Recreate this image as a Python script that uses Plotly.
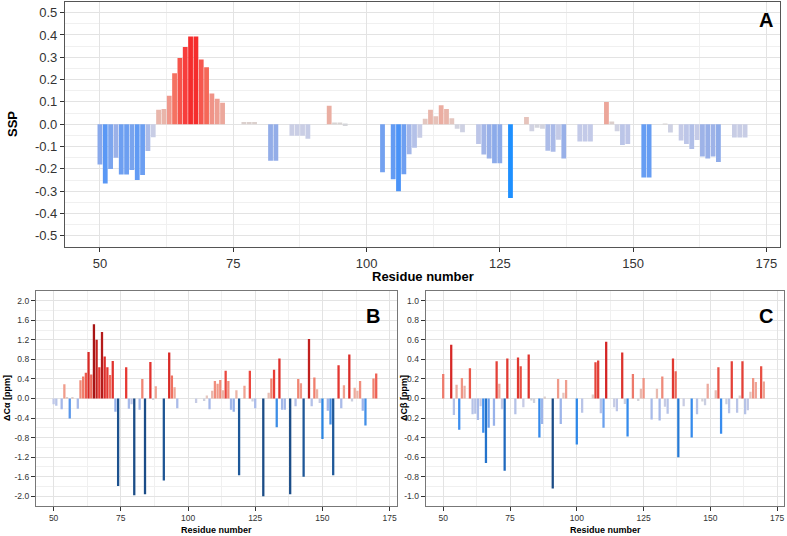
import plotly.graph_objects as go

W, H = 787, 536

# panel A: SSP score per residue
ssp_res = [50, 51, 52, 53, 54, 55, 56, 57, 58, 59, 60, 61, 62, 63, 64, 65, 66, 67, 68, 69,
           70, 71, 72, 73, 77, 78, 79, 82, 83, 86, 87, 88, 89, 93, 94, 95, 96, 103, 105, 106,
           107, 108, 109, 110, 111, 112, 113, 114, 115, 116, 117, 118, 121, 122, 123, 124, 125, 127, 130, 131,
           132, 133, 134, 135, 136, 137, 140, 141, 142, 145, 146, 147, 148, 149, 152, 153, 156, 157, 159, 160,
           161, 162, 163, 164, 165, 166, 169, 170, 171]
ssp_val = [-0.18, -0.265, -0.20, -0.15, -0.225, -0.225, -0.205, -0.25, -0.227, -0.12, -0.058, 0.065, 0.068, 0.128, 0.229, 0.297, 0.346, 0.393, 0.393, 0.29,
           0.255, 0.138, 0.114, 0.096, 0.01, 0.01, 0.01, -0.163, -0.163, -0.052, -0.052, -0.052, -0.065, 0.083, 0.004, 0.004, -0.008, -0.215, -0.246, -0.30,
           -0.224, -0.134, -0.105, -0.06, 0.025, 0.065, 0.036, 0.085, 0.068, 0.027, -0.02, -0.036, -0.089, -0.135, -0.154, -0.175, -0.175, -0.331, 0.032, -0.031,
           -0.016, -0.02, -0.119, -0.123, -0.07, -0.154, -0.077, -0.077, -0.077, 0.10, 0.012, -0.031, -0.093, -0.088, -0.239, -0.239, 0.003, -0.037, -0.073, -0.089,
           -0.111, -0.071, -0.144, -0.154, -0.144, -0.169, -0.059, -0.059, -0.059]

# panel B: delta C-alpha (ppm)
ca_res = [50, 51, 53, 54, 55, 56, 57, 59, 60, 61, 62, 63, 64, 65, 66, 67, 68, 69, 70, 71,
          72, 73, 74, 77, 78, 79, 80, 82, 83, 84, 86, 87, 88, 91, 93, 94, 95, 96, 103, 106,
          107, 108, 109, 110, 111, 112, 113, 114, 115, 116, 117, 118, 119, 121, 123, 124, 125, 128, 130, 131,
          132, 133, 134, 135, 136, 138, 140, 141, 142, 143, 145, 146, 147, 148, 149, 150, 152, 153, 154, 156,
          157, 158, 160, 161, 162, 163, 164, 165, 166, 169, 170]
ca_val = [-0.12, -0.15, -0.22, 0.29, 0.03, -0.41, 0.03, -0.21, 0.376, 0.45, 0.526, 0.95, 0.49, 1.52, 1.20, 0.64, 1.36, 0.86, 0.64, 0.48,
          0.77, -0.27, -1.79, 0.64, -0.21, -0.12, -1.98, -0.23, 0.40, -1.96, 0.745, -0.03, 0.25, -1.68, 0.94, 0.47, 0.23, -0.20, -0.09, -0.05,
          0.06, -0.22, 0.16, 0.36, 0.30, 0.38, 0.17, 0.57, 0.36, -0.23, -0.27, 0.17, -1.57, 0.26, 0.57, -0.06, -0.20, -2.0, 0.12, 0.41,
          0.59, -0.59, 0.82, -0.23, -0.23, -1.96, -0.16, 0.40, 0.31, -1.60, 1.22, -0.16, 0.43, 0.19, -0.09, -0.83, -0.25, -0.53, -1.57, 0.68,
          -0.20, 0.27, 0.90, -0.06, 0.22, 0.16, 0.36, -0.25, -0.55, 0.41, 0.51]

# panel C: delta C-beta (ppm)
cb_res = [50, 53, 54, 55, 56, 57, 58, 60, 61, 62, 63, 64, 65, 66, 67, 69, 70, 71, 72, 73,
          74, 77, 78, 79, 80, 82, 83, 84, 86, 87, 88, 91, 93, 94, 95, 96, 100, 102, 106, 107,
          108, 109, 110, 111, 114, 115, 117, 118, 119, 121, 123, 124, 125, 128, 130, 131, 132, 133, 134, 136,
          137, 138, 140, 143, 145, 147, 148, 149, 152, 153, 154, 156, 157, 158, 160, 161, 162, 163, 164, 165,
          166, 167, 169, 170]
cb_val = [0.25, 0.55, -0.17, 0.14, -0.32, 0.21, 0.13, 0.31, -0.16, -0.155, -0.22, -0.08, -0.35, -0.66, -0.30, -0.28, 0.38, 0.15, -0.11, -0.74,
          0.41, -0.16, 0.42, 0.33, -0.09, 0.45, -0.02, -0.045, -0.40, -0.26, 0.02, -0.92, 0.20, -0.26, 0.06, 0.19, -0.47, -0.145, 0.04, 0.37,
          0.39, -0.15, -0.30, 0.58, -0.09, -0.13, 0.47, -0.055, -0.39, 0.25, -0.025, 0.10, 0.21, -0.215, 0.10, -0.225, 0.225, -0.085, -0.155, 0.41,
          0.28, -0.60, -0.08, -0.40, -0.16, -0.03, -0.07, 0.15, 0.085, 0.32, -0.36, -0.06, -0.15, 0.38, -0.145, 0.03, 0.38, -0.16, -0.12, 0.07,
          0.21, 0.17, 0.33, 0.175]

x_ticks = [50, 75, 100, 125, 150, 175]
ssp_ticks = [i / 10 for i in range(-5, 6)]
ca_ticks = [i * 0.4 for i in range(-5, 6)]
cb_ticks = [i * 0.2 for i in range(-5, 6)]


def hex2rgb(h):
    h = h.lstrip('#')
    return [int(h[i:i + 2], 16) for i in (0, 2, 4)]


def ramp(v, neg, pos):
    stops = pos if v >= 0 else neg
    a = abs(v)
    for (v0, c0), (v1, c1) in zip(stops, stops[1:]):
        if a <= v1:
            t = (a - v0) / (v1 - v0)
            r0, r1 = hex2rgb(c0), hex2rgb(c1)
            return 'rgb(%d,%d,%d)' % tuple(round(p + (q - p) * t) for p, q in zip(r0, r1))
    return stops[-1][1]


ssp_neg = [(0, '#D6D6D6'), (0.03, '#D0D2E2'), (0.08, '#C2C9E8'), (0.16, '#95AEE8'),
           (0.23, '#6A9EF2'), (0.30, '#4A93F8'), (0.33, '#1E90FF')]
ssp_pos = [(0, '#D6D6D6'), (0.03, '#E6C4BC'), (0.08, '#EAB0A4'), (0.13, '#F0968A'),
           (0.25, '#F56A5A'), (0.35, '#F73B3B'), (0.40, '#F52A2A')]
ca_neg = [(0, '#D6D6D6'), (0.1, '#C4CAE6'), (0.25, '#9DB4EA'), (0.4, '#5A97EA'), (0.6, '#3A8CE6'),
          (0.85, '#2A84E0'), (1.5, '#1F5A9C'), (2.0, '#1B4C86')]
ca_pos = [(0, '#D6D6D6'), (0.05, '#E4C8C2'), (0.25, '#F0A594'), (0.45, '#F07A68'), (0.6, '#E83A34'),
          (0.95, '#D82A26'), (1.55, '#A51414')]
cb_neg = [(0, '#D6D6D6'), (0.1, '#C4CAE6'), (0.28, '#98B2EA'), (0.32, '#3C8EF0'), (0.5, '#2A86E6'),
          (0.75, '#1F68BC'), (0.92, '#1B4C86')]
cb_pos = [(0, '#D6D6D6'), (0.05, '#E4C8C2'), (0.2, '#F09A8A'), (0.3, '#EA5A4C'), (0.4, '#E23A32'),
          (0.6, '#D22222')]

fig = go.Figure()
fig.add_trace(go.Bar(x=ssp_res, y=ssp_val, width=0.9, marker_line_width=0,
                     marker_color=[ramp(v, ssp_neg, ssp_pos) for v in ssp_val],
                     xaxis='x', yaxis='y'))
fig.add_trace(go.Bar(x=ca_res, y=ca_val, width=0.85, marker_line_width=0,
                     marker_color=[ramp(v, ca_neg, ca_pos) for v in ca_val],
                     xaxis='x2', yaxis='y2'))
fig.add_trace(go.Bar(x=cb_res, y=cb_val, width=0.85, marker_line_width=0,
                     marker_color=[ramp(v, cb_neg, cb_pos) for v in cb_val],
                     xaxis='x3', yaxis='y3'))

FONT = 'Liberation Sans, Arial, sans-serif'


def px(x, y):
    return x / W, 1 - y / H


def xaxis(x0, x1, y_anchor, size, lc):
    return dict(domain=[x0 / W, x1 / W], anchor=y_anchor, range=[43.45, 177.55],
                tickmode='array', tickvals=x_ticks, ticks='outside', ticklen=4, tickcolor='#333',
                tickfont=dict(family=FONT, size=size, color='#333'),
                showgrid=True, gridcolor='#E3E3E3', gridwidth=1, zeroline=False,
                minor=dict(tickmode='array', tickvals=[62.5, 87.5, 112.5, 137.5, 162.5],
                           showgrid=True, gridcolor='#F0F0F0', gridwidth=1, ticks=''),
                showline=True, mirror=True, linecolor=lc, linewidth=1.2)


def yaxis(y0, y1, x_anchor, ticks, rng, size, lc):
    step = ticks[1] - ticks[0]
    return dict(domain=[1 - y1 / H, 1 - y0 / H], anchor=x_anchor, range=rng,
                tickmode='array', tickvals=ticks, ticktext=['%.1f' % t for t in ticks],
                ticks='outside', ticklen=4, tickcolor='#333',
                tickfont=dict(family=FONT, size=size, color='#333'),
                showgrid=True, gridcolor='#E3E3E3', gridwidth=1, zeroline=False,
                minor=dict(tickmode='array', tickvals=[t + step / 2 for t in ticks[:-1]],
                           showgrid=True, gridcolor='#F0F0F0', gridwidth=1, ticks=''),
                showline=True, mirror=True, linecolor=lc, linewidth=1.2)


ann = []


def label(text, x, y, size, angle=0):
    ax, ay = px(x, y)
    ann.append(dict(text='<b>%s</b>' % text, x=ax, y=ay, xref='paper', yref='paper',
                    showarrow=False, textangle=angle, xanchor='center', yanchor='middle',
                    font=dict(family=FONT, size=size, color='#000')))


label('Residue number', 422.5, 276, 13)
label('SSP', 12, 124, 13, -90)
label('Residue number', 216, 530, 9)
label('ΔCα [ppm]', 7, 398, 9, -90)
label('Residue number', 605, 530, 9)
label('ΔCβ [ppm]', 404, 398, 9, -90)
label('A', 765.5, 20, 20)
label('B', 372.5, 316, 20)
label('C', 765.5, 316, 20)

fig.update_layout(
    width=W, height=H, margin=dict(l=0, r=0, t=0, b=0),
    paper_bgcolor='white', plot_bgcolor='white', showlegend=False,
    xaxis=xaxis(65, 780, 'y', 13, '#555'),
    yaxis=yaxis(1.5, 247, 'x', ssp_ticks, [-0.55, 0.55], 13, '#555'),
    xaxis2=xaxis(36, 396.5, 'y2', 8.5, '#777'),
    yaxis2=yaxis(291, 506, 'x2', ca_ticks, [-2.2, 2.2], 8.5, '#777'),
    xaxis3=xaxis(425.7, 784, 'y3', 8.5, '#777'),
    yaxis3=yaxis(291, 506, 'x3', cb_ticks, [-1.1, 1.1], 8.5, '#777'),
    annotations=ann,
)

# drop the browser's default body margin so the figure sits at the page corner
fig.write_html("out.html", config={'displayModeBar': False},
               post_script="document.body.style.margin='0';document.body.style.overflow='hidden';")
